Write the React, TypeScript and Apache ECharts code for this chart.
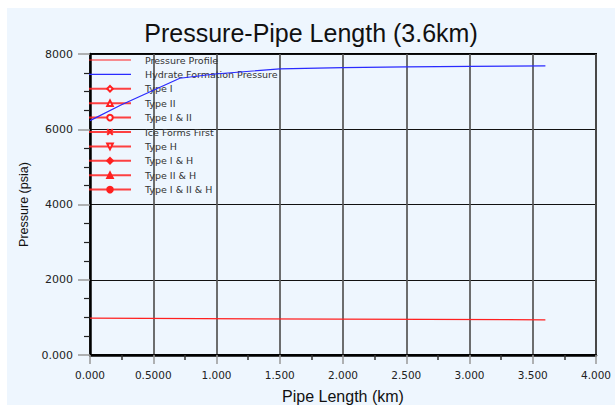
import React, { useEffect, useRef } from "react";
import * as echarts from "echarts";

const titleText = "Pressure-Pipe Length (3.6km)";
const xAxisName = "Pipe Length (km)";
const yAxisName = "Pressure (psia)";

const profileKm = [0, 3.6];
const profilePsi = [978, 935];

const hydrateKm = [0, 0.245, 0.71, 0.99, 1.5, 2.0, 2.5, 3.0, 3.6];
const hydratePsi = [6230, 6645, 7355, 7468, 7605, 7640, 7660, 7672, 7682];

const markerSeries = [
  { name: "Type I", symbol: "diamond", filled: false, rotate: 0 },
  { name: "Type II", symbol: "triangle", filled: false, rotate: 0 },
  { name: "Type I & II", symbol: "circle", filled: false, rotate: 0 },
  { name: "Ice Forms First", symbol: "path://M0,0L2,2M2,0L0,2", filled: false, rotate: 0 },
  { name: "Type H", symbol: "triangle", filled: false, rotate: 180 },
  { name: "Type I & H", symbol: "diamond", filled: true, rotate: 0 },
  { name: "Type II & H", symbol: "triangle", filled: true, rotate: 0 },
  { name: "Type I & II & H", symbol: "circle", filled: true, rotate: 0 },
];

const BG = "#eef6fe";
const RED = "#ff2020";
const BLUE = "#2a2aff";
const LINE_ICON = "path://M0,0L42,0L42,1.2L0,1.2Z";

export default function App() {
  const ref = useRef<HTMLDivElement>(null);
  useEffect(() => {
    if (!ref.current) return;
    const chart = echarts.init(ref.current, undefined, { renderer: "svg" });
    const fmtX = (v: number) => (v === 0 ? "0.000" : v === 0.5 ? "0.5000" : v.toFixed(3));
    const fmtY = (v: number) => (v === 0 ? "0.000" : String(v));
    const series: any[] = [
      {
        name: "Pressure Profile",
        type: "line",
        data: profileKm.map((k, i) => [k, profilePsi[i]]),
        symbol: "none",
        lineStyle: { color: RED, width: 1.2 },
        itemStyle: { color: RED },
        z: 5,
      },
      {
        name: "Hydrate Formation Pressure",
        type: "line",
        data: hydrateKm.map((k, i) => [k, hydratePsi[i]]),
        symbol: "none",
        lineStyle: { color: BLUE, width: 1.2 },
        itemStyle: { color: BLUE },
        z: 5,
      },
      ...markerSeries.map((m) => ({
        name: m.name,
        type: "line",
        data: [],
        symbol: m.symbol,
        symbolSize: 5,
        symbolRotate: m.rotate,
        lineStyle: { color: RED, width: 1.1, opacity: 0.85 },
        itemStyle: {
          color: m.filled ? RED : BG,
          borderColor: RED,
          borderWidth: 1.1,
        },
      })),
    ];
    const legendData: any[] = [
      { name: "Pressure Profile", icon: LINE_ICON },
      { name: "Hydrate Formation Pressure", icon: LINE_ICON },
      ...markerSeries.map((m) => ({ name: m.name })),
    ];
    chart.setOption({
      animation: false,
      backgroundColor: BG,
      title: {
        text: titleText,
        left: "center",
        top: 7,
        textStyle: { fontFamily: "Liberation Sans, Arial, sans-serif", fontSize: 25, fontWeight: "normal", color: "#111" },
      },
      legend: {
        data: legendData,
        orient: "vertical",
        left: 81,
        top: 47,
        padding: 0,
        itemWidth: 42,
        itemHeight: 7,
        itemGap: 4.4,
        textStyle: {
          fontFamily: "DejaVu Sans, Verdana, sans-serif",
          fontSize: 9.5,
          color: "#333",
          padding: [0, 0, 0, 9],
        },
        selectedMode: false,
      },
      grid: {
        left: 83,
        right: 19,
        top: 46,
        bottom: 50,
        show: true,
        borderColor: "#000",
        borderWidth: 2,
        backgroundColor: "transparent",
        outerBoundsMode: "none",
        containLabel: false,
      },
      xAxis: {
        type: "value",
        min: 0,
        max: 4,
        interval: 0.5,
        name: xAxisName,
        nameLocation: "middle",
        nameGap: 33,
        nameTextStyle: { fontFamily: "Liberation Sans, Arial, sans-serif", fontSize: 16, color: "#111" },
        axisLine: { show: true, lineStyle: { color: "#000", width: 2.5 } },
        axisTick: { show: true, length: 9, lineStyle: { color: "#999", width: 1.5 } },
        minorTick: { show: true, splitNumber: 2, length: 5, lineStyle: { color: "#333", width: 1.5 } },
        axisLabel: {
          formatter: fmtX,
          fontFamily: "DejaVu Sans, Verdana, sans-serif",
          fontSize: 10.5,
          color: "#222",
          margin: 14,
        },
        splitLine: { show: true, lineStyle: { color: "#555", width: 2, opacity: 0.85 } },
      },
      yAxis: {
        type: "value",
        min: 0,
        max: 8000,
        interval: 2000,
        name: yAxisName,
        nameLocation: "middle",
        nameGap: 58,
        nameTextStyle: { fontFamily: "Liberation Sans, Arial, sans-serif", fontSize: 12.5, color: "#111" },
        axisLine: { show: true, lineStyle: { color: "#000", width: 2.5 } },
        axisTick: { show: true, length: 12, lineStyle: { color: "#999", width: 1.5 } },
        minorTick: { show: true, splitNumber: 4, length: 6, lineStyle: { color: "#222", width: 1.2 } },
        axisLabel: {
          formatter: fmtY,
          fontFamily: "DejaVu Sans, Verdana, sans-serif",
          fontSize: 11,
          color: "#222",
          margin: 17,
        },
        splitLine: { show: true, lineStyle: { color: "#111", width: 1 } },
      },
      series,
    });
    return () => chart.dispose();
  }, []);
  return (
    <div style={{ position: "absolute", left: 0, top: 0, width: 615, height: 405, background: "#fff" }}>
      <div ref={ref} style={{ position: "absolute", left: 7, top: 8, width: 608, height: 397 }} />
    </div>
  );
}
